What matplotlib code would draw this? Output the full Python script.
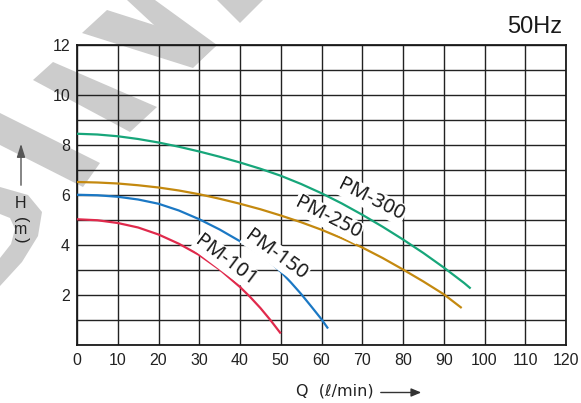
import matplotlib
matplotlib.use('Agg')
import matplotlib.pyplot as plt
from matplotlib.patches import Polygon, FancyArrowPatch

# pump curves: Q (l/min) vs H (m)
q_pm300 = [0, 5, 10, 15, 20, 25, 30, 35, 40, 45, 50, 55, 60, 65, 70, 75, 80, 85, 90, 95, 96.6]
h_pm300 = [8.45, 8.42, 8.35, 8.24, 8.10, 7.93, 7.74, 7.53, 7.30, 7.05, 6.77, 6.44, 6.07,
           5.66, 5.21, 4.73, 4.22, 3.68, 3.10, 2.48, 2.26]

q_pm250 = [0, 5, 10, 15, 20, 25, 30, 35, 40, 45, 50, 55, 60, 65, 70, 75, 80, 85, 90, 94.4]
h_pm250 = [6.52, 6.50, 6.46, 6.39, 6.30, 6.18, 6.03, 5.85, 5.65, 5.43, 5.18, 4.91, 4.61,
           4.27, 3.90, 3.48, 3.02, 2.54, 2.03, 1.48]

q_pm150 = [0, 5, 10, 15, 20, 25, 30, 35, 40, 45, 47.5, 50, 52.5, 55, 57.5, 60, 61.6]
h_pm150 = [6.01, 5.99, 5.93, 5.82, 5.65, 5.38, 5.03, 4.62, 4.15, 3.62, 3.30, 2.93, 2.50,
           2.04, 1.54, 1.03, 0.66]

q_pm101 = [0, 5, 10, 15, 20, 25, 30, 35, 40, 42.5, 45, 47.5, 50]
h_pm101 = [5.03, 4.99, 4.88, 4.70, 4.42, 4.05, 3.60, 3.02, 2.32, 1.92, 1.48, 0.99, 0.46]

models = ['PM-300', 'PM-250', 'PM-150', 'PM-101']
colors = ['#17a67a', '#c4890f', '#1b78c4', '#e02a4c']

x_ticks = list(range(0, 121, 10))
y_ticks = [2, 4, 6, 8, 10, 12]

# where the model names sit (data coords) and their tilt
label_pos = {'PM-300': (72.3, 5.81, -27), 'PM-250': (61.6, 5.09, -27),
             'PM-150': (48.8, 3.60, -36), 'PM-101': (36.6, 3.37, -37)}

# grey watermark strokes, in pixels from the top-left corner
watermark = [
    [(0, 113), (100, 163), (83, 187), (0, 145)],
    [(33, 80), (53, 62), (157, 107), (130, 132)],
    [(82, 33), (107, 10), (217, 45), (193, 68)],
    [(127, 0), (155, 0), (217, 45), (196, 64)],
    [(217, 0), (240, 23), (263, 0)],
    [(0, 187), (28, 195), (42, 212), (38, 236), (22, 262), (0, 286),
     (0, 258), (11, 244), (15, 229), (10, 218), (0, 214)],
]

W, H = 581, 403
fig = plt.figure(figsize=(W / 100, H / 100), dpi=100)
ax = fig.add_axes([77 / W, 1 - 345 / H, 489 / W, 300 / H])
ax.set_facecolor('none')

for pts in watermark:
    fig.add_artist(Polygon([(x / W, 1 - y / H) for x, y in pts], closed=True,
                           transform=fig.transFigure, fc='#cccccc', ec='none', zorder=-1))

series = [(q_pm300, h_pm300), (q_pm250, h_pm250), (q_pm150, h_pm150), (q_pm101, h_pm101)]
for (q, h), name, c in zip(series, models, colors):
    ax.plot(q, h, color=c, lw=1.6, zorder=3, solid_capstyle='butt')
    lx, ly, rot = label_pos[name]
    ax.text(lx, ly, name, rotation=rot, rotation_mode='anchor', ha='center', va='center',
            fontsize=14.5, family='Noto Sans', color='#1a1a1a', zorder=4,
            bbox=dict(boxstyle='square,pad=0.05', fc='white', ec='none'))

ax.set_xlim(0, 120)
ax.set_ylim(0, 12)
ax.set_xticks(x_ticks)
ax.set_yticks(y_ticks)
ax.set_yticks(range(0, 13), minor=True)
ax.grid(True, which='both', color='#222222', lw=1.0)
ax.tick_params(which='both', length=0)
ax.tick_params(axis='x', pad=6, labelsize=11.5, labelcolor='#222222')
ax.tick_params(axis='y', pad=5, labelsize=11.5, labelcolor='#222222')
for lab in ax.get_xticklabels() + ax.get_yticklabels():
    lab.set_family('Liberation Sans')
for sp in ax.spines.values():
    sp.set_color('#1a1a1a')
    sp.set_linewidth(1.3)

# titles and axis names
fig.text(562 / W, 1 - 27 / H, '50Hz', ha='right', va='center', fontsize=17,
         family='Liberation Sans', color='#1a1a1a')
fig.text(296 / W, 1 - 391 / H, 'Q  (ℓ/min)', ha='left', va='center', fontsize=11.5,
         family='DejaVu Sans', color='#222222')
fig.add_artist(FancyArrowPatch(
    (378 / W, 1 - 392.5 / H), (424 / W, 1 - 392.5 / H), transform=fig.transFigure,
    arrowstyle='-|>,head_length=6,head_width=2.5', color='#333333', lw=1.0))
fig.add_artist(FancyArrowPatch(
    (21 / W, 1 - 188 / H), (21 / W, 1 - 141 / H), transform=fig.transFigure,
    arrowstyle='-|>,head_length=8,head_width=2.5', color='#555555', lw=1.0))
fig.text(21 / W, 1 - 203 / H, 'H', ha='center', va='center', fontsize=11.5,
         family='Liberation Sans', color='#222222')
fig.text(21 / W, 1 - 220 / H, '(', rotation=-90, ha='center', va='center', fontsize=12,
         family='Liberation Sans', color='#222222')
fig.text(21 / W, 1 - 230 / H, 'm', ha='center', va='center', fontsize=11.5,
         family='Liberation Sans', color='#222222')
fig.text(21 / W, 1 - 240 / H, ')', rotation=-90, ha='center', va='center', fontsize=12,
         family='Liberation Sans', color='#222222')

fig.savefig('out.png', dpi=100)
